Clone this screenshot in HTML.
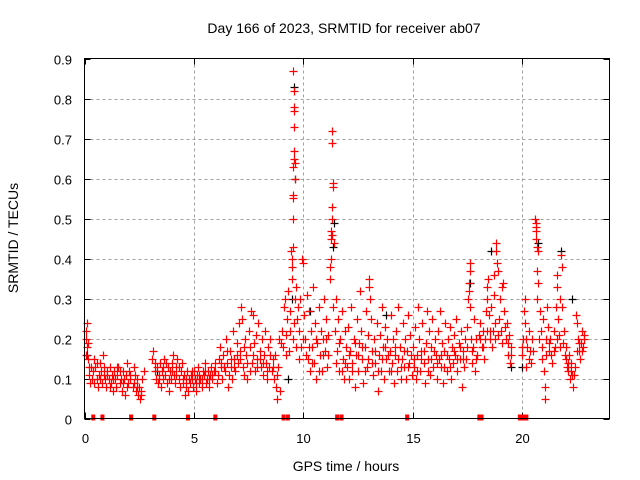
<!DOCTYPE html>
<html><head><meta charset="utf-8"><style>
html,body{margin:0;padding:0;background:#fff}
svg{display:block;font-family:"Liberation Sans",Arial,sans-serif}
</style></head><body>
<svg id="chart" width="640" height="480" viewBox="0 0 640 480">
<text x="344" y="33" font-size="14" text-anchor="middle">Day 166 of 2023, SRMTID for receiver ab07</text>
<text x="346" y="471" font-size="14" text-anchor="middle">GPS time / hours</text>
<text x="0" y="0" font-size="14" text-anchor="middle" transform="translate(18,238) rotate(-90)">SRMTID / TECUs</text>
<g id="grid"></g>
<g id="ticks"></g>
<g id="black"></g>
<g id="red"></g>
<g id="gaps"></g>
<rect x="84.5" y="58.5" width="525" height="360" fill="none" stroke="#000" stroke-width="1"/>
</svg>
<script>
const xTicks=[0,5,10,15,20];
const yTicks=[0,0.1,0.2,0.3,0.4,0.5,0.6,0.7,0.8,0.9];
const xMin=0,xMax=24,yMin=0,yMax=0.9;
const gapHours=[0.4,0.82,2.13,3.19,4.73,5.98,9.1,9.3,11.55,11.75,14.75,18.05,18.15,19.9,20.05,20.2];
const redPoints=[
[0.05,0.2],[0.07,0.22],[0.1,0.18],[0.12,0.24],[0.15,0.19],[0.18,0.15],[0.2,0.13],[0.22,0.11],[0.25,0.09],[0.08,0.16],
[0.35,0.1],[0.4,0.12],[0.45,0.15],[0.5,0.13],[0.55,0.1],[0.6,0.08],[0.65,0.11],[0.7,0.14],[0.75,0.12],[0.8,0.09],[0.85,0.16],[0.9,0.11],[0.95,0.1],
[1.0,0.08],[1.05,0.12],[1.1,0.1],[1.15,0.13],[1.2,0.09],[1.25,0.11],[1.3,0.07],[1.35,0.12],[1.4,0.1],[1.45,0.08],[1.5,0.11],[1.55,0.13],[1.6,0.09],[1.65,0.1],[1.7,0.07],[1.75,0.12],[1.8,0.1],[1.85,0.06],[1.9,0.11],[1.95,0.14],[2.0,0.09],[2.05,0.12],[2.1,0.1],[2.2,0.08],[2.25,0.13],[2.3,0.11],[2.35,0.07],[2.4,0.1],[2.45,0.06],[2.5,0.08],[2.55,0.05],[2.6,0.07],[2.65,0.1],[2.7,0.12],
[3.1,0.15],[3.15,0.17],[3.2,0.12],[3.25,0.1],[3.3,0.13],[3.35,0.09],[3.4,0.11],[3.45,0.14],[3.5,0.08],[3.55,0.12],[3.6,0.1],[3.65,0.15],[3.7,0.11],[3.75,0.09],[3.8,0.13],[3.85,0.07],[3.9,0.12],[3.95,0.1],
[4.0,0.14],[4.05,0.16],[4.1,0.11],[4.15,0.09],[4.2,0.13],[4.25,0.15],[4.3,0.1],[4.35,0.08],[4.4,0.12],[4.45,0.14],[4.5,0.09],[4.55,0.11],[4.6,0.06],[4.65,0.1],[4.7,0.12],[4.75,0.07],[4.8,0.09],[4.85,0.11],[4.9,0.1],[4.95,0.08],
[5.0,0.12],[5.05,0.1],[5.1,0.07],[5.15,0.11],[5.2,0.13],[5.25,0.09],[5.3,0.1],[5.35,0.08],[5.4,0.12],[5.45,0.11],[5.5,0.14],[5.55,0.09],[5.6,0.1],[5.65,0.12],[5.7,0.08],[5.75,0.11],[5.8,0.13],[5.85,0.1],[5.9,0.12],[5.95,0.14],
[6.05,0.09],[6.1,0.11],[6.15,0.15],[6.2,0.18],[6.25,0.13],[6.3,0.1],[6.35,0.16],[6.4,0.12],[6.45,0.2],[6.5,0.14],[6.55,0.08],[6.6,0.11],[6.65,0.17],[6.7,0.13],[6.75,0.1],[6.8,0.22],[6.85,0.15],[6.9,0.12],[6.95,0.19],
[7.0,0.14],[7.05,0.24],[7.1,0.17],[7.15,0.28],[7.2,0.25],[7.25,0.13],[7.3,0.11],[7.35,0.2],[7.4,0.16],[7.45,0.1],[7.5,0.22],[7.55,0.18],[7.6,0.27],[7.65,0.14],[7.7,0.26],[7.75,0.19],[7.8,0.12],[7.85,0.21],[7.9,0.15],[7.95,0.24],
[8.0,0.17],[8.05,0.13],[8.1,0.2],[8.15,0.11],[8.2,0.16],[8.25,0.22],[8.3,0.14],[8.35,0.1],[8.4,0.18],[8.45,0.13],[8.5,0.2],[8.55,0.12],[8.6,0.15],[8.65,0.1],[8.7,0.16],[8.75,0.08],[8.8,0.05],[8.85,0.13],[8.9,0.2],[8.95,0.07],[9.0,0.19],
[9.05,0.22],[9.1,0.28],[9.15,0.3],[9.2,0.21],[9.25,0.25],[9.3,0.32],[9.35,0.17],[9.4,0.27],
[9.45,0.42],[9.47,0.4],[9.48,0.35],[9.5,0.38],[9.52,0.43],[9.53,0.5],[9.54,0.55],[9.55,0.56],[9.55,0.63],[9.56,0.65],[9.57,0.67],[9.58,0.73],[9.56,0.77],[9.57,0.78],[9.56,0.82],[9.55,0.87],[9.6,0.64],[9.62,0.6],[9.6,0.3],[9.58,0.24],[9.52,0.2],
[9.65,0.33],[9.7,0.25],[9.75,0.28],[9.8,0.22],[9.85,0.3],[9.9,0.18],[9.95,0.4],[10.0,0.39],[10.05,0.26],[10.1,0.2],[10.15,0.31],[10.2,0.15],[10.25,0.27],[10.3,0.12],[10.35,0.22],[10.4,0.18],[10.45,0.33],[10.5,0.14],[10.55,0.24],[10.6,0.1],[10.65,0.19],[10.7,0.28],[10.75,0.16],[10.8,0.22],[10.85,0.12],[10.9,0.2],[10.95,0.3],[11.0,0.17],[11.05,0.25],[11.1,0.13],[11.15,0.21],
[11.2,0.35],[11.22,0.38],[11.25,0.4],[11.27,0.45],[11.28,0.47],[11.3,0.46],[11.32,0.5],[11.33,0.53],[11.35,0.58],[11.37,0.59],[11.3,0.69],[11.3,0.72],[11.4,0.44],[11.38,0.28],
[11.45,0.22],[11.5,0.3],[11.55,0.17],[11.6,0.25],[11.65,0.12],[11.7,0.2],[11.75,0.27],[11.8,0.15],[11.85,0.1],[11.9,0.22],[11.95,0.18],
[12.0,0.13],[12.05,0.23],[12.1,0.1],[12.15,0.17],[12.2,0.28],[12.25,0.14],[12.3,0.2],[12.35,0.08],[12.4,0.16],[12.45,0.25],[12.5,0.12],[12.55,0.19],[12.6,0.32],[12.65,0.22],[12.7,0.15],[12.75,0.09],[12.8,0.18],[12.85,0.27],[12.9,0.13],[12.95,0.21],
[13.0,0.35],[13.02,0.33],[13.05,0.3],[13.1,0.25],[13.15,0.17],[13.2,0.11],[13.25,0.2],[13.3,0.14],[13.35,0.24],[13.4,0.07],[13.45,0.16],[13.5,0.21],[13.55,0.12],[13.6,0.28],[13.65,0.18],[13.7,0.1],[13.75,0.23],[13.8,0.15],[13.85,0.2],[13.9,0.12],[13.95,0.17],
[14.0,0.26],[14.05,0.14],[14.1,0.2],[14.15,0.09],[14.2,0.16],[14.25,0.22],[14.3,0.12],[14.35,0.28],[14.4,0.18],[14.45,0.1],[14.5,0.15],[14.55,0.24],[14.6,0.13],[14.65,0.2],[14.7,0.1],[14.75,0.17],[14.8,0.26],[14.85,0.14],[14.9,0.21],[14.95,0.11],
[15.0,0.18],[15.05,0.13],[15.1,0.23],[15.15,0.1],[15.2,0.16],[15.25,0.28],[15.3,0.2],[15.35,0.12],[15.4,0.17],[15.45,0.24],[15.5,0.14],[15.55,0.09],[15.6,0.19],[15.65,0.27],[15.7,0.15],[15.75,0.22],[15.8,0.11],[15.85,0.18],[15.9,0.25],[15.95,0.13],
[16.0,0.2],[16.05,0.16],[16.1,0.1],[16.15,0.22],[16.2,0.15],[16.25,0.27],[16.3,0.13],[16.35,0.19],[16.4,0.09],[16.45,0.17],[16.5,0.24],[16.55,0.12],[16.6,0.2],[16.65,0.15],[16.7,0.23],[16.75,0.1],[16.8,0.18],[16.85,0.14],[16.9,0.21],[16.95,0.16],
[17.0,0.25],[17.05,0.12],[17.1,0.19],[17.15,0.15],[17.2,0.22],[17.25,0.08],[17.3,0.17],[17.35,0.13],[17.4,0.2],[17.45,0.15],[17.5,0.23],
[17.55,0.3],[17.57,0.32],[17.58,0.34],[17.6,0.37],[17.6,0.39],[17.62,0.28],[17.65,0.2],[17.7,0.14],[17.75,0.18],[17.8,0.25],[17.85,0.12],[17.9,0.2],[17.95,0.16],
[18.05,0.21],[18.1,0.24],[18.15,0.18],[18.2,0.22],[18.25,0.15],[18.3,0.2],[18.35,0.27],[18.4,0.3],[18.42,0.33],[18.45,0.35],[18.5,0.26],[18.55,0.22],[18.6,0.28],[18.65,0.18],[18.7,0.31],[18.72,0.36],[18.75,0.24],[18.8,0.44],[18.82,0.42],[18.85,0.39],[18.9,0.37],[18.95,0.25],[19.0,0.3],[19.05,0.22],[19.1,0.33],[19.15,0.34],[19.2,0.27],[19.25,0.2],[19.3,0.24],[19.35,0.16],[19.4,0.21],[19.45,0.14],[19.5,0.18],
[20.0,0.16],[20.05,0.2],[20.1,0.27],[20.12,0.3],[20.15,0.24],[20.2,0.13],[20.25,0.18],[20.3,0.22],[20.35,0.17],[20.4,0.14],[20.45,0.2],
[20.6,0.5],[20.62,0.49],[20.63,0.48],[20.64,0.47],[20.65,0.45],[20.7,0.43],[20.72,0.42],[20.68,0.37],[20.75,0.34],[20.7,0.3],[20.8,0.27],[20.85,0.22],[20.9,0.18],[20.95,0.25],[21.0,0.12],[21.05,0.08],[21.05,0.05],[21.1,0.2],[21.15,0.28],[21.2,0.23],[21.25,0.17],[21.3,0.2],[21.35,0.14],
[21.45,0.22],[21.5,0.18],[21.55,0.28],[21.6,0.33],[21.62,0.36],[21.65,0.25],[21.7,0.21],[21.75,0.3],[21.8,0.41],[21.82,0.38],[21.85,0.28],[21.9,0.22],[21.95,0.16],
[22.0,0.18],[22.05,0.13],[22.1,0.12],[22.15,0.16],[22.2,0.1],[22.25,0.14],[22.3,0.11],[22.35,0.08],[22.4,0.13],[22.45,0.26],[22.5,0.24],[22.55,0.2],[22.6,0.17],[22.65,0.15],[22.7,0.19],[22.75,0.22],[22.8,0.18],[22.85,0.2]
];
const redPointsExtra=[
[0.3,0.13],[0.42,0.09],[0.58,0.14],[0.72,0.1],[0.88,0.13],[1.02,0.11],[1.18,0.08],[1.32,0.1],[1.48,0.13],[1.62,0.12],[1.78,0.09],[1.92,0.08],[2.08,0.11],[2.28,0.09],[2.42,0.08],[2.58,0.06],
[3.22,0.14],[3.42,0.1],[3.58,0.13],[3.72,0.14],[3.88,0.1],[4.02,0.12],[4.18,0.11],[4.32,0.13],[4.48,0.1],[4.62,0.08],[4.78,0.1],[4.92,0.12],[5.08,0.09],[5.22,0.11],[5.38,0.1],[5.52,0.12],[5.68,0.1],[5.82,0.11],[5.98,0.12],
[6.22,0.14],[6.38,0.13],[6.52,0.17],[6.68,0.15],[6.82,0.13],[6.98,0.16],[7.12,0.15],[7.28,0.18],[7.42,0.14],[7.58,0.12],[7.72,0.16],[7.88,0.13],[8.02,0.15],[8.18,0.14],[8.32,0.12],[8.48,0.16],[8.62,0.13],[8.78,0.11],
[9.08,0.18],[9.22,0.16],[9.38,0.22],[9.68,0.18],[9.82,0.15],[9.98,0.2],[10.12,0.16],[10.28,0.18],[10.42,0.14],[10.58,0.2],[10.72,0.12],[10.88,0.16],[11.02,0.2],[11.12,0.16],
[11.48,0.14],[11.62,0.19],[11.78,0.12],[11.92,0.14],[12.08,0.16],[12.22,0.12],[12.38,0.19],[12.52,0.16],[12.68,0.18],[12.82,0.12],[12.98,0.15],[13.12,0.14],[13.28,0.17],[13.42,0.12],[13.58,0.15],[13.72,0.18],[13.88,0.16],
[14.02,0.12],[14.18,0.18],[14.32,0.15],[14.48,0.13],[14.62,0.17],[14.78,0.13],[14.92,0.16],[15.08,0.15],[15.22,0.12],[15.38,0.15],[15.52,0.17],[15.68,0.12],[15.82,0.15],[15.98,0.17],
[16.12,0.14],[16.28,0.16],[16.42,0.13],[16.58,0.16],[16.72,0.13],[16.88,0.17],[17.02,0.15],[17.18,0.18],[17.32,0.15],[17.48,0.18],[17.72,0.17],[17.88,0.15],
[18.08,0.2],[18.22,0.18],[18.38,0.22],[18.52,0.2],[18.68,0.22],[18.78,0.2],[18.92,0.21],[19.08,0.19],[19.22,0.23],[19.38,0.19],[19.48,0.16],
[20.02,0.18],[20.18,0.2],[20.32,0.15],[20.48,0.17],[20.78,0.2],[20.92,0.15],[21.08,0.16],[21.22,0.19],[21.32,0.16],[21.48,0.17],[21.58,0.2],[21.72,0.18],[21.88,0.19],
[22.02,0.15],[22.12,0.14],[22.22,0.12],[22.38,0.11],[22.52,0.17],[22.62,0.19],[22.72,0.17],[22.82,0.21]
];
const blackPoints=[
[0.1,0.16],[3.3,0.12],[9.56,0.83],[9.6,0.6],[9.48,0.3],[9.3,0.1],[10.3,0.27],[11.4,0.49],[11.38,0.43],[13.8,0.26],[17.6,0.34],[18.6,0.42],[19.5,0.13],[20.0,0.13],[20.75,0.44],[21.8,0.42],[22.3,0.3]
];
const NS='http://www.w3.org/2000/svg';
const X0=84.5,X1=609.5,Y0=418.5,Y1=58.5;
function sx(h){return X0+(h-xMin)/(xMax-xMin)*(X1-X0);}
function sy(v){return Y0-(v-yMin)/(yMax-yMin)*(Y0-Y1);}
function mk(tag,attrs,parent){const e=document.createElementNS(NS,tag);for(const k in attrs)e.setAttribute(k,attrs[k]);parent.appendChild(e);return e;}
const grid=document.getElementById('grid'),ticks=document.getElementById('ticks');
xTicks.forEach(t=>{
 const x=Math.round(sx(t))+0.5;
 if(t>xMin){const g=mk('line',{x1:x,x2:x,y1:Y1,y2:Y0,stroke:'#a0a0a0','stroke-dasharray':'3,3'},grid);
 
 }
 const tk=mk('path',{d:`M${x},${Y0}v-6M${x},${Y1}v6`,stroke:'#000'},ticks);
 
 
 const l=mk('text',{x:x,y:443,'font-size':13,'text-anchor':'middle'},ticks);l.textContent=t;
 
 
});
yTicks.forEach(t=>{
 const y=Math.round(sy(t))+0.5;
 if(t>yMin&&t<yMax){const g=mk('line',{x1:X0,x2:X1,y1:y,y2:y,stroke:'#a0a0a0','stroke-dasharray':'3,3'},grid);
 
 }
 const tk=mk('path',{d:`M${X0},${y}h6M${X1},${y}h-6`,stroke:'#000'},ticks);
 
 
 const l=mk('text',{x:72,y:y+5,'font-size':13,'text-anchor':'end'},ticks);l.textContent=(t===0?'0':t.toFixed(1));
 
 
});
function plus(parent,pts,color,name){
 pts.forEach(p=>{
  const x=Math.round(sx(p[0]))+0.5,y=Math.round(sy(p[1]))+0.5;
  const e=mk('path',{d:`M${x-4},${y}h8M${x},${y-4}v8`,stroke:color,'stroke-width':1.2,fill:'none'},parent);
  
  
 });
}
plus(document.getElementById('black'),blackPoints,'#000000','black-point');
plus(document.getElementById('red'),redPoints,'#ff0000','red-point');
plus(document.getElementById('red'),redPointsExtra,'#ff0000','red-point');
const gaps=document.getElementById('gaps');
gapHours.forEach(h=>{
 const r=mk('rect',{x:sx(h)-2,y:Y0-4,width:4,height:6,fill:'#f00'},gaps);
 
 
});
</script>
</body></html>
